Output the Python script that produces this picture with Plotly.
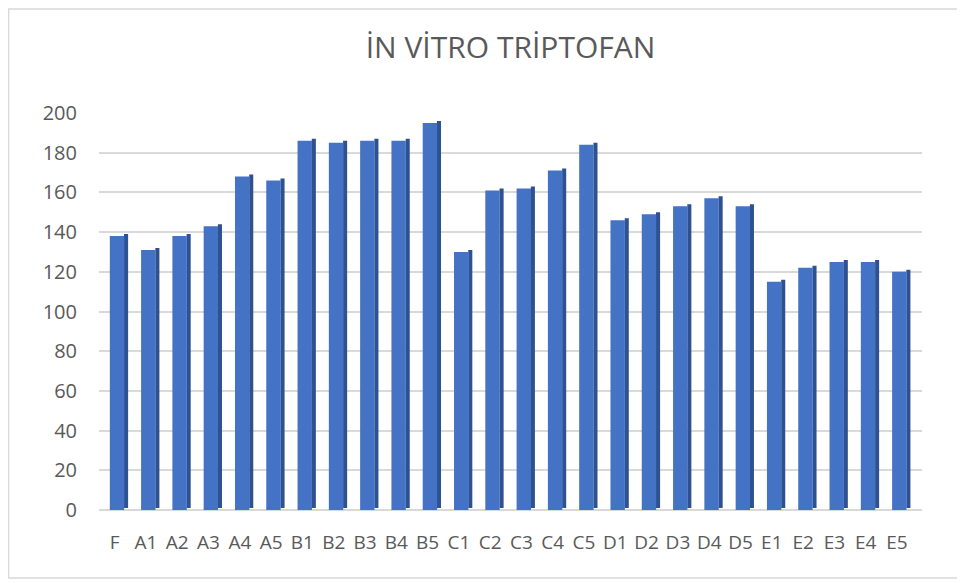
import plotly.graph_objects as go

categories = ["F", "A1", "A2", "A3", "A4", "A5", "B1", "B2", "B3", "B4", "B5",
              "C1", "C2", "C3", "C4", "C5", "D1", "D2", "D3", "D4", "D5",
              "E1", "E2", "E3", "E4", "E5"]
values = [138, 131, 138, 143, 168, 166, 186, 185, 186, 186, 195,
          130, 161, 162, 171, 184, 146, 149, 153, 157, 153,
          115, 122, 125, 125, 120]
y_ticks = [0, 20, 40, 60, 80, 100, 120, 140, 160, 180, 200]

fig = go.Figure()
# side face (darker), slightly raised for a pseudo-3D look
fig.add_trace(go.Bar(x=categories, y=values, base=1.0, width=0.13, offset=0.30,
                     marker=dict(color="#2E5190", line=dict(width=0)),
                     hoverinfo="skip", showlegend=False))
# front face
fig.add_trace(go.Bar(x=categories, y=values, width=0.46, offset=-0.155,
                     marker=dict(color="#4472C4", line=dict(width=0)),
                     showlegend=False, name="İN VİTRO TRİPTOFAN"))

fig.update_layout(
    width=965, height=583,
    barmode="overlay",
    paper_bgcolor="white", plot_bgcolor="white",
    margin=dict(l=91, r=51, t=105, b=81),
    title=dict(text="İN VİTRO TRİPTOFAN", x=0.5, xanchor="center",
               xref="paper",
               y=1 - 39 / 583, yanchor="middle",
               font=dict(family="Open Sans", size=30, color="#595959")),
    font=dict(family="Open Sans", size=20, color="#595959"),
    xaxis=dict(type="category", range=[-0.5, 25.8], showgrid=False,
               showline=False, ticks="", ticklabelstandoff=19,
               tickfont=dict(size=19, color="#595959")),
    yaxis=dict(range=[0, 200], tickvals=y_ticks, showgrid=True,
               gridcolor="#D9D9D9", gridwidth=1.5, zeroline=True,
               zerolinecolor="#D9D9D9", zerolinewidth=1.5,
               showline=False, ticks="", ticklabelstandoff=21,
               tickfont=dict(size=20, color="#595959")),
    shapes=[dict(type="rect", xref="paper", yref="paper",
                 x0=-0.1099, x1=1.0497, y0=-0.1713, y1=1.262,
                 line=dict(color="#D9D9D9", width=1.5), layer="below")],
)

fig.write_html("out.html")
